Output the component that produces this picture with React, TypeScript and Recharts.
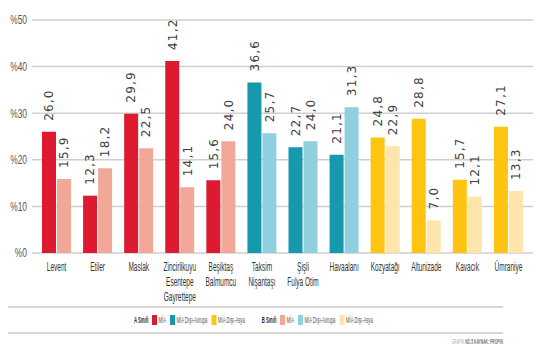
import { BarChart, Bar, XAxis, YAxis, CartesianGrid, Cell, LabelList } from "recharts";

// kategoriler (alt satırlara bölünmüş)
const categories = [
  ["Levent"],
  ["Etiler"],
  ["Maslak"],
  ["Zincirlikuyu", "Esentepe", "Gayrettepe"],
  ["Beşiktaş", "Balmumcu"],
  ["Taksim", "Nişantaşı"],
  ["Şişli", "Fulya Otim"],
  ["Havaalanı"],
  ["Kozyatağı"],
  ["Altunizade"],
  ["Kavacık"],
  ["Ümraniye"],
];
const regions = ["mia", "mia", "mia", "mia", "mia", "avrupa", "avrupa", "avrupa", "asya", "asya", "asya", "asya"];
const classA = [26.0, 12.3, 29.9, 41.2, 15.6, 36.6, 22.7, 21.1, 24.8, 28.8, 15.7, 27.1];
const classB = [15.9, 18.2, 22.5, 14.1, 24.0, 25.7, 24.0, 31.3, 22.9, 7.0, 12.1, 13.3];
const yTicks = [0, 10, 20, 30, 40, 50];

const colorsA: Record<string, string> = { mia: "#de1a30", avrupa: "#1698ad", asya: "#fdc511" };
const colorsB: Record<string, string> = { mia: "#f1a898", avrupa: "#90cfdd", asya: "#fde5ab" };

const legendItems = [
  { key: "mia", label: "MİA" },
  { key: "avrupa", label: "MİA Dışı-Avrupa" },
  { key: "asya", label: "MİA Dışı-Asya" },
];

const data = categories.map((c, i) => ({
  name: c.join(" "),
  lines: c,
  region: regions[i],
  a: classA[i],
  b: classB[i],
}));

// dar yazı yok, Liberation Sans'ı yatayda sıkıştırıyoruz
const narrow = "'Liberation Sans', Arial, sans-serif";

const fmt = (v: number) => v.toFixed(1).replace(".", ",");

const ValueLabel = (props: any) => {
  const { x, y, width, value } = props;
  const cx = x + width / 2;
  const ty = y - 11;
  return (
    <text
      x={cx}
      y={ty}
      transform={`rotate(-90, ${cx}, ${ty})`}
      textAnchor="start"
      dy="0.36em"
      fontSize={12}
      letterSpacing={1.2}
      fontFamily="'DejaVu Sans', sans-serif"
      fill="#404040"
    >
      {fmt(value)}
    </text>
  );
};

const CategoryTick = (props: any) => {
  const { x, y, index } = props;
  const lines = data[index]?.lines ?? [];
  return (
    <g transform={`translate(${x},${y}) scale(0.52,1)`}>
      <text x={0} y={0} textAnchor="middle" fontSize={12.5} fontFamily={narrow} fill="#333">
        {lines.map((l: string, i: number) => (
          <tspan key={i} x={0} dy={i === 0 ? 18 : 15}>
            {l}
          </tspan>
        ))}
      </text>
    </g>
  );
};

const PercentTick = (props: any) => {
  const { x, y, payload } = props;
  return (
    <g transform={`translate(${x},${y}) scale(0.7,1)`}>
      <text x={0} y={0} dy="0.36em" textAnchor="end" fontSize={12} fontFamily={narrow} fill="#555">
        %{payload.value}
      </text>
    </g>
  );
};

// ölçekten önceki birimler (x2)
const LegendRow = ({ title, colors }: { title: string; colors: Record<string, string> }) => (
  <div style={{ display: "flex", alignItems: "center", marginRight: 26 }}>
    <span style={{ fontWeight: "bold", marginRight: 7 }}>{title}</span>
    {legendItems.map((it) => (
      <span key={it.key} style={{ display: "flex", alignItems: "center", marginRight: 8 }}>
        <span style={{ width: 10, height: 10, background: colors[it.key], display: "inline-block", marginRight: 3 }} />
        <span style={{ color: "#555" }}>{it.label}</span>
      </span>
    ))}
  </div>
);

export default function App() {
  return (
    <div style={{ position: "absolute", left: 0, top: 0, width: 555, height: 355, background: "#fff" }}>
      <BarChart
        width={555}
        height={310}
        data={data}
        margin={{ top: 20, right: 22, bottom: 7, left: 0 }}
        barSize={14}
        barGap={1}
      >
        <CartesianGrid vertical={false} stroke="#cfcfcf" strokeWidth={1.5} />
        <XAxis
          dataKey="name"
          interval={0}
          axisLine={false}
          tickLine={false}
          tickSize={0}
          tickMargin={0}
          height={50}
          padding={{ left: 4, right: 4 }}
          tick={<CategoryTick />}
        />
        <YAxis
          width={32}
          domain={[0, 50]}
          ticks={yTicks}
          axisLine={false}
          tickLine={false}
          tickSize={0}
          tickMargin={5}
          tick={<PercentTick />}
        />
        <Bar dataKey="a" isAnimationActive={false}>
          {data.map((d, i) => (
            <Cell key={i} fill={colorsA[d.region]} />
          ))}
          <LabelList dataKey="a" content={<ValueLabel />} />
        </Bar>
        <Bar dataKey="b" isAnimationActive={false}>
          {data.map((d, i) => (
            <Cell key={i} fill={colorsB[d.region]} />
          ))}
          <LabelList dataKey="b" content={<ValueLabel />} />
        </Bar>
      </BarChart>

      <div style={{ position: "absolute", left: 8, top: 306, width: 495, height: 2, background: "#d6d6d6" }} />
      <div
        style={{
          position: "absolute",
          left: 134,
          top: 315,
          display: "flex",
          fontSize: 8.5,
          fontFamily: narrow,
          color: "#222",
          whiteSpace: "nowrap",
          transform: "scaleX(0.5)",
          transformOrigin: "left center",
        }}
      >
        <LegendRow title="A Sınıfı" colors={colorsA} />
        <LegendRow title="B Sınıfı" colors={colorsB} />
      </div>
      <div style={{ position: "absolute", left: 8, top: 332, width: 495, height: 2, background: "#d6d6d6" }} />
      <div
        style={{
          position: "absolute",
          right: 52,
          top: 337,
          fontSize: 8,
          fontFamily: narrow,
          whiteSpace: "nowrap",
          transform: "scaleX(0.42)",
          transformOrigin: "right center",
        }}
      >
        <span style={{ color: "#aaa" }}>GRAFİK </span>
        <span style={{ color: "#777", fontWeight: "bold" }}>NO.5 KAYNAK: PROPIN</span>
      </div>
    </div>
  );
}
